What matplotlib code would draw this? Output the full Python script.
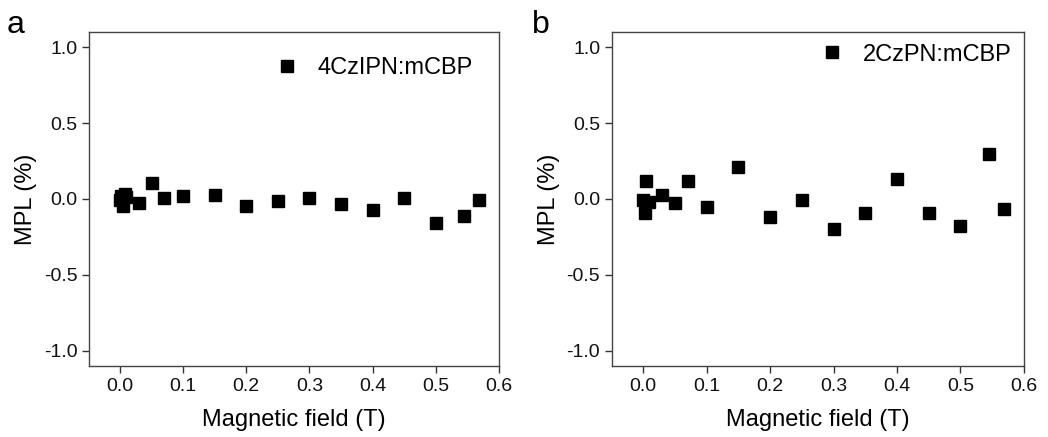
import numpy as np
import matplotlib.pyplot as plt

plt.rcParams['font.family'] = ['Liberation Sans', 'DejaVu Sans']

# panel a: 4CzIPN:mCBP
field_a = [0.0, 0.002, 0.004, 0.008, 0.01, 0.03, 0.05, 0.07, 0.10, 0.15, 0.20,
           0.25, 0.30, 0.35, 0.40, 0.45, 0.50, 0.545, 0.568]
mpl_a = [-0.01, 0.02, -0.045, 0.035, 0.01, -0.03, 0.105, 0.005, 0.02, 0.025, -0.045,
         -0.015, 0.005, -0.035, -0.075, 0.005, -0.16, -0.115, -0.005]

# panel b: 2CzPN:mCBP
field_b = [0.0, 0.003, 0.005, 0.01, 0.03, 0.05, 0.07, 0.10, 0.15, 0.20, 0.25,
           0.30, 0.35, 0.40, 0.45, 0.50, 0.545, 0.568]
mpl_b = [-0.005, -0.09, 0.12, -0.02, 0.025, -0.025, 0.12, -0.055, 0.21, -0.12, -0.005,
         -0.195, -0.095, 0.13, -0.095, -0.175, 0.295, -0.068]

fig = plt.figure(figsize=(10.48, 4.37), dpi=100)
ax1 = fig.add_axes([0.085, 0.1625, 0.391, 0.7645])
ax2 = fig.add_axes([0.584, 0.1625, 0.393, 0.7645])

panels = [(ax1, field_a, mpl_a, "4CzIPN:mCBP", "a", 0.006, (0.937, 0.892)),
          (ax2, field_b, mpl_b, "2CzPN:mCBP", "b", 0.508, (0.97, 0.932))]

for ax, x, y, name, letter, lx, leg_pos in panels:
    ax.plot(x, y, 's', color='black', ms=9, label=name)
    ax.set_xlim(-0.049, 0.6)
    ax.set_ylim(-1.1, 1.1)
    ax.set_xticks(np.arange(0, 0.61, 0.1))
    ax.set_yticks([-1.0, -0.5, 0.0, 0.5, 1.0])
    ax.set_xticklabels(["%.1f" % v for v in np.arange(0, 0.61, 0.1)])
    ax.set_yticklabels(["-1.0", "-0.5", "0.0", "0.5", "1.0"])
    ax.tick_params(direction='out', length=5, width=1, labelsize=14,
                   colors='#333333', labelcolor='#111111', top=False, right=False)
    for s in ax.spines.values():
        s.set_color('#444444')
        s.set_linewidth(1)
    ax.set_xlabel("Magnetic field (T)", fontsize=17, labelpad=10)
    ax.set_ylabel("MPL (%)", fontsize=17, labelpad=5)
    ax.legend(loc='center right', bbox_to_anchor=leg_pos, frameon=False, fontsize=17,
              handletextpad=0.7, borderpad=0, borderaxespad=0, handlelength=1.2)
    fig.text(lx, 0.925, letter, fontsize=23)

fig.savefig("out.png", dpi=100)
